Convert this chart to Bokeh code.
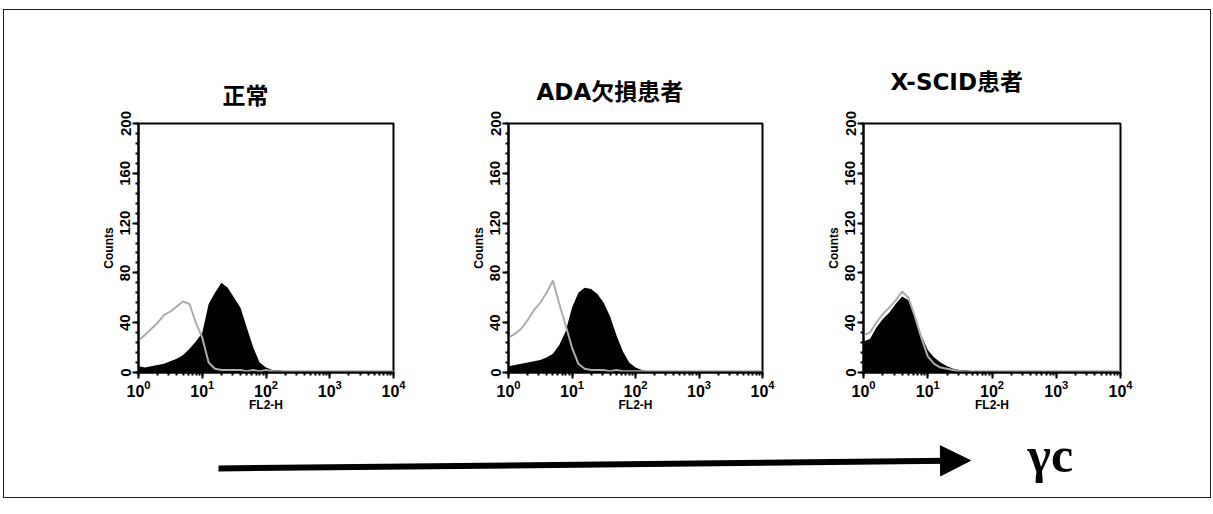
from bokeh.plotting import figure
from bokeh.layouts import row, column
from bokeh.models import Range1d, Label, SingleIntervalTicker, LogTicker, Arrow, NormalHead
from bokeh.embed import file_html
from bokeh.resources import INLINE

# ---- data ----
channel = [1.0, 1.26, 1.58, 2.0, 2.51, 3.16, 3.98, 5.01, 6.31, 7.94,
           10.0, 12.6, 15.8, 20.0, 25.1, 31.6, 39.8, 50.1, 63.1, 79.4,
           100, 126, 158, 200, 251, 316, 398, 501, 631, 794,
           1000, 1260, 1580, 2000, 2510, 3160, 3980, 5010, 6310, 7940, 10000]

titles = ["正常", "ADA欠損患者", "X-SCID患者"]

normal_stain = [5, 4, 5, 6, 7, 9, 11, 14, 19, 25,
                32, 55, 64, 72, 68, 60, 52, 36, 20, 8,
                4, 2, 2, 1, 1, 1, 0, 1, 0, 1,
                0, 1, 0, 0, 1, 0, 0, 0, 0, 0, 0]
normal_ctrl = [26, 30, 35, 40, 46, 49, 53, 57, 55, 40,
               28, 8, 3, 2, 2, 2, 2, 1, 2, 1,
               2, 1, 1, 1, 1, 1, 1, 1, 1, 1,
               1, 1, 1, 1, 1, 1, 1, 1, 1, 1, 1]

ada_stain = [5, 6, 7, 8, 9, 10, 12, 15, 22, 33,
             52, 64, 68, 67, 63, 56, 45, 30, 17, 8,
             4, 2, 1, 1, 1, 0, 1, 0, 1, 0,
             0, 1, 0, 0, 0, 1, 0, 0, 0, 0, 0]
ada_ctrl = [28, 31, 35, 42, 50, 56, 64, 74, 55, 38,
            20, 7, 3, 2, 2, 2, 1, 2, 1, 1,
            1, 1, 1, 1, 1, 1, 1, 1, 1, 1,
            1, 1, 1, 1, 1, 1, 1, 1, 1, 1, 1]

xscid_stain = [25, 27, 36, 43, 48, 55, 61, 58, 45, 30,
               18, 12, 8, 5, 3, 2, 2, 1, 1, 1,
               1, 0, 1, 0, 1, 0, 0, 1, 0, 0,
               0, 0, 1, 0, 0, 0, 0, 0, 0, 0, 0]
xscid_ctrl = [30, 32, 40, 47, 52, 58, 65, 60, 45, 28,
              13, 7, 4, 3, 2, 1, 1, 1, 1, 1,
              1, 1, 1, 1, 1, 1, 1, 1, 1, 1,
              1, 1, 1, 1, 1, 1, 1, 1, 1, 1, 1]

y_ticks_interval = 40
x_label = "FL2-H"
y_label = "Counts"
marker_label = "γc"

stains = [normal_stain, ada_stain, xscid_stain]
ctrls = [normal_ctrl, ada_ctrl, xscid_ctrl]

# ---- layout geometry ----
fig_w = [446, 350, 410]
fig_h = 418
borders = [  # left, right, top, bottom
    (134, 57, 113, 56),
    (58, 38, 113, 56),
    (63, 90, 113, 56),
]
title_offsets = [84, 28, 27]
title_standoffs = [30, 38, 58]

FONT = "Liberation Sans"
TITLE_FONT = "DejaVu Sans, Noto Sans CJK JP"
figs = []
for i in range(3):
    l, r, t, b = borders[i]
    p = figure(width=fig_w[i], height=fig_h, x_axis_type="log",
               x_range=Range1d(1, 10000), y_range=Range1d(0, 200),
               output_backend="svg", toolbar_location=None,
               min_border_left=l, min_border_right=r,
               min_border_top=t, min_border_bottom=b)
    p.grid.visible = False
    p.outline_line_color = "black"
    p.outline_line_width = 2
    p.background_fill_color = "white"
    p.border_fill_color = "white"

    p.title.text = titles[i]
    p.title.align = "left"
    p.title.offset = title_offsets[i]
    p.title.standoff = title_standoffs[i]
    p.title.text_font = TITLE_FONT
    p.title.text_font_size = "23px"
    p.title.text_font_style = "bold"
    p.title.text_color = "black"

    p.varea(x=channel, y1=0, y2=stains[i], fill_color="black")
    p.line(x=channel, y=ctrls[i], line_color="#adadad", line_width=2)

    p.yaxis.ticker = SingleIntervalTicker(interval=y_ticks_interval, num_minor_ticks=5)
    p.xaxis.ticker = LogTicker(num_minor_ticks=10)
    for ax in (p.xaxis[0], p.yaxis[0]):
        ax.axis_line_width = 2
        ax.axis_line_color = "black"
        ax.major_tick_in = 0
        ax.major_tick_out = 6
        ax.major_tick_line_width = 2
        ax.minor_tick_in = 0
        ax.minor_tick_out = 3
        ax.minor_tick_line_width = 2
        ax.major_label_text_font = FONT
        ax.major_label_text_font_style = "bold"
        ax.major_label_text_color = "black"
        ax.axis_label_text_font = FONT
        ax.axis_label_text_font_style = "bold"
        ax.axis_label_text_color = "black"
        ax.axis_label_text_font_size = "12px"
    p.xaxis.major_label_text_font_size = "16px"
    p.yaxis.major_label_text_font_size = "15px"
    p.yaxis.major_label_orientation = "vertical"
    p.xaxis.major_label_standoff = 1
    p.yaxis.major_label_standoff = 2
    p.xaxis.axis_label = x_label
    p.yaxis.axis_label = y_label
    p.xaxis.axis_label_standoff = -2
    p.yaxis.axis_label_standoff = 2
    figs.append(p)

# bottom strip with arrow and γc (overlaps the row slightly, transparent)
aw = sum(fig_w)
ah = 74
pa = figure(width=aw, height=ah, x_range=Range1d(0, aw), y_range=Range1d(ah, 0),
            output_backend="svg", toolbar_location=None, margin=(-5, 0, 0, 0),
            min_border_left=0, min_border_right=0, min_border_top=0, min_border_bottom=0)
pa.axis.visible = False
pa.grid.visible = False
pa.outline_line_color = None
pa.background_fill_alpha = 0
pa.border_fill_alpha = 0
pa.add_layout(Arrow(x_start=214, y_start=45, x_end=966, y_end=37,
                    line_width=6, line_color="black",
                    end=NormalHead(size=30, fill_color="black", line_color="black")))
pa.add_layout(Label(x=1023, y=31, text=marker_label, text_align="left",
                    text_baseline="middle", text_font="Liberation Serif",
                    text_font_style="bold", text_font_size="50px", text_color="black"))

layout = column(row(*figs), pa, styles={"border": "1px solid #222"}, margin=(9, 0, 0, 3))
open("out.html", "w").write(file_html(layout, INLINE))
